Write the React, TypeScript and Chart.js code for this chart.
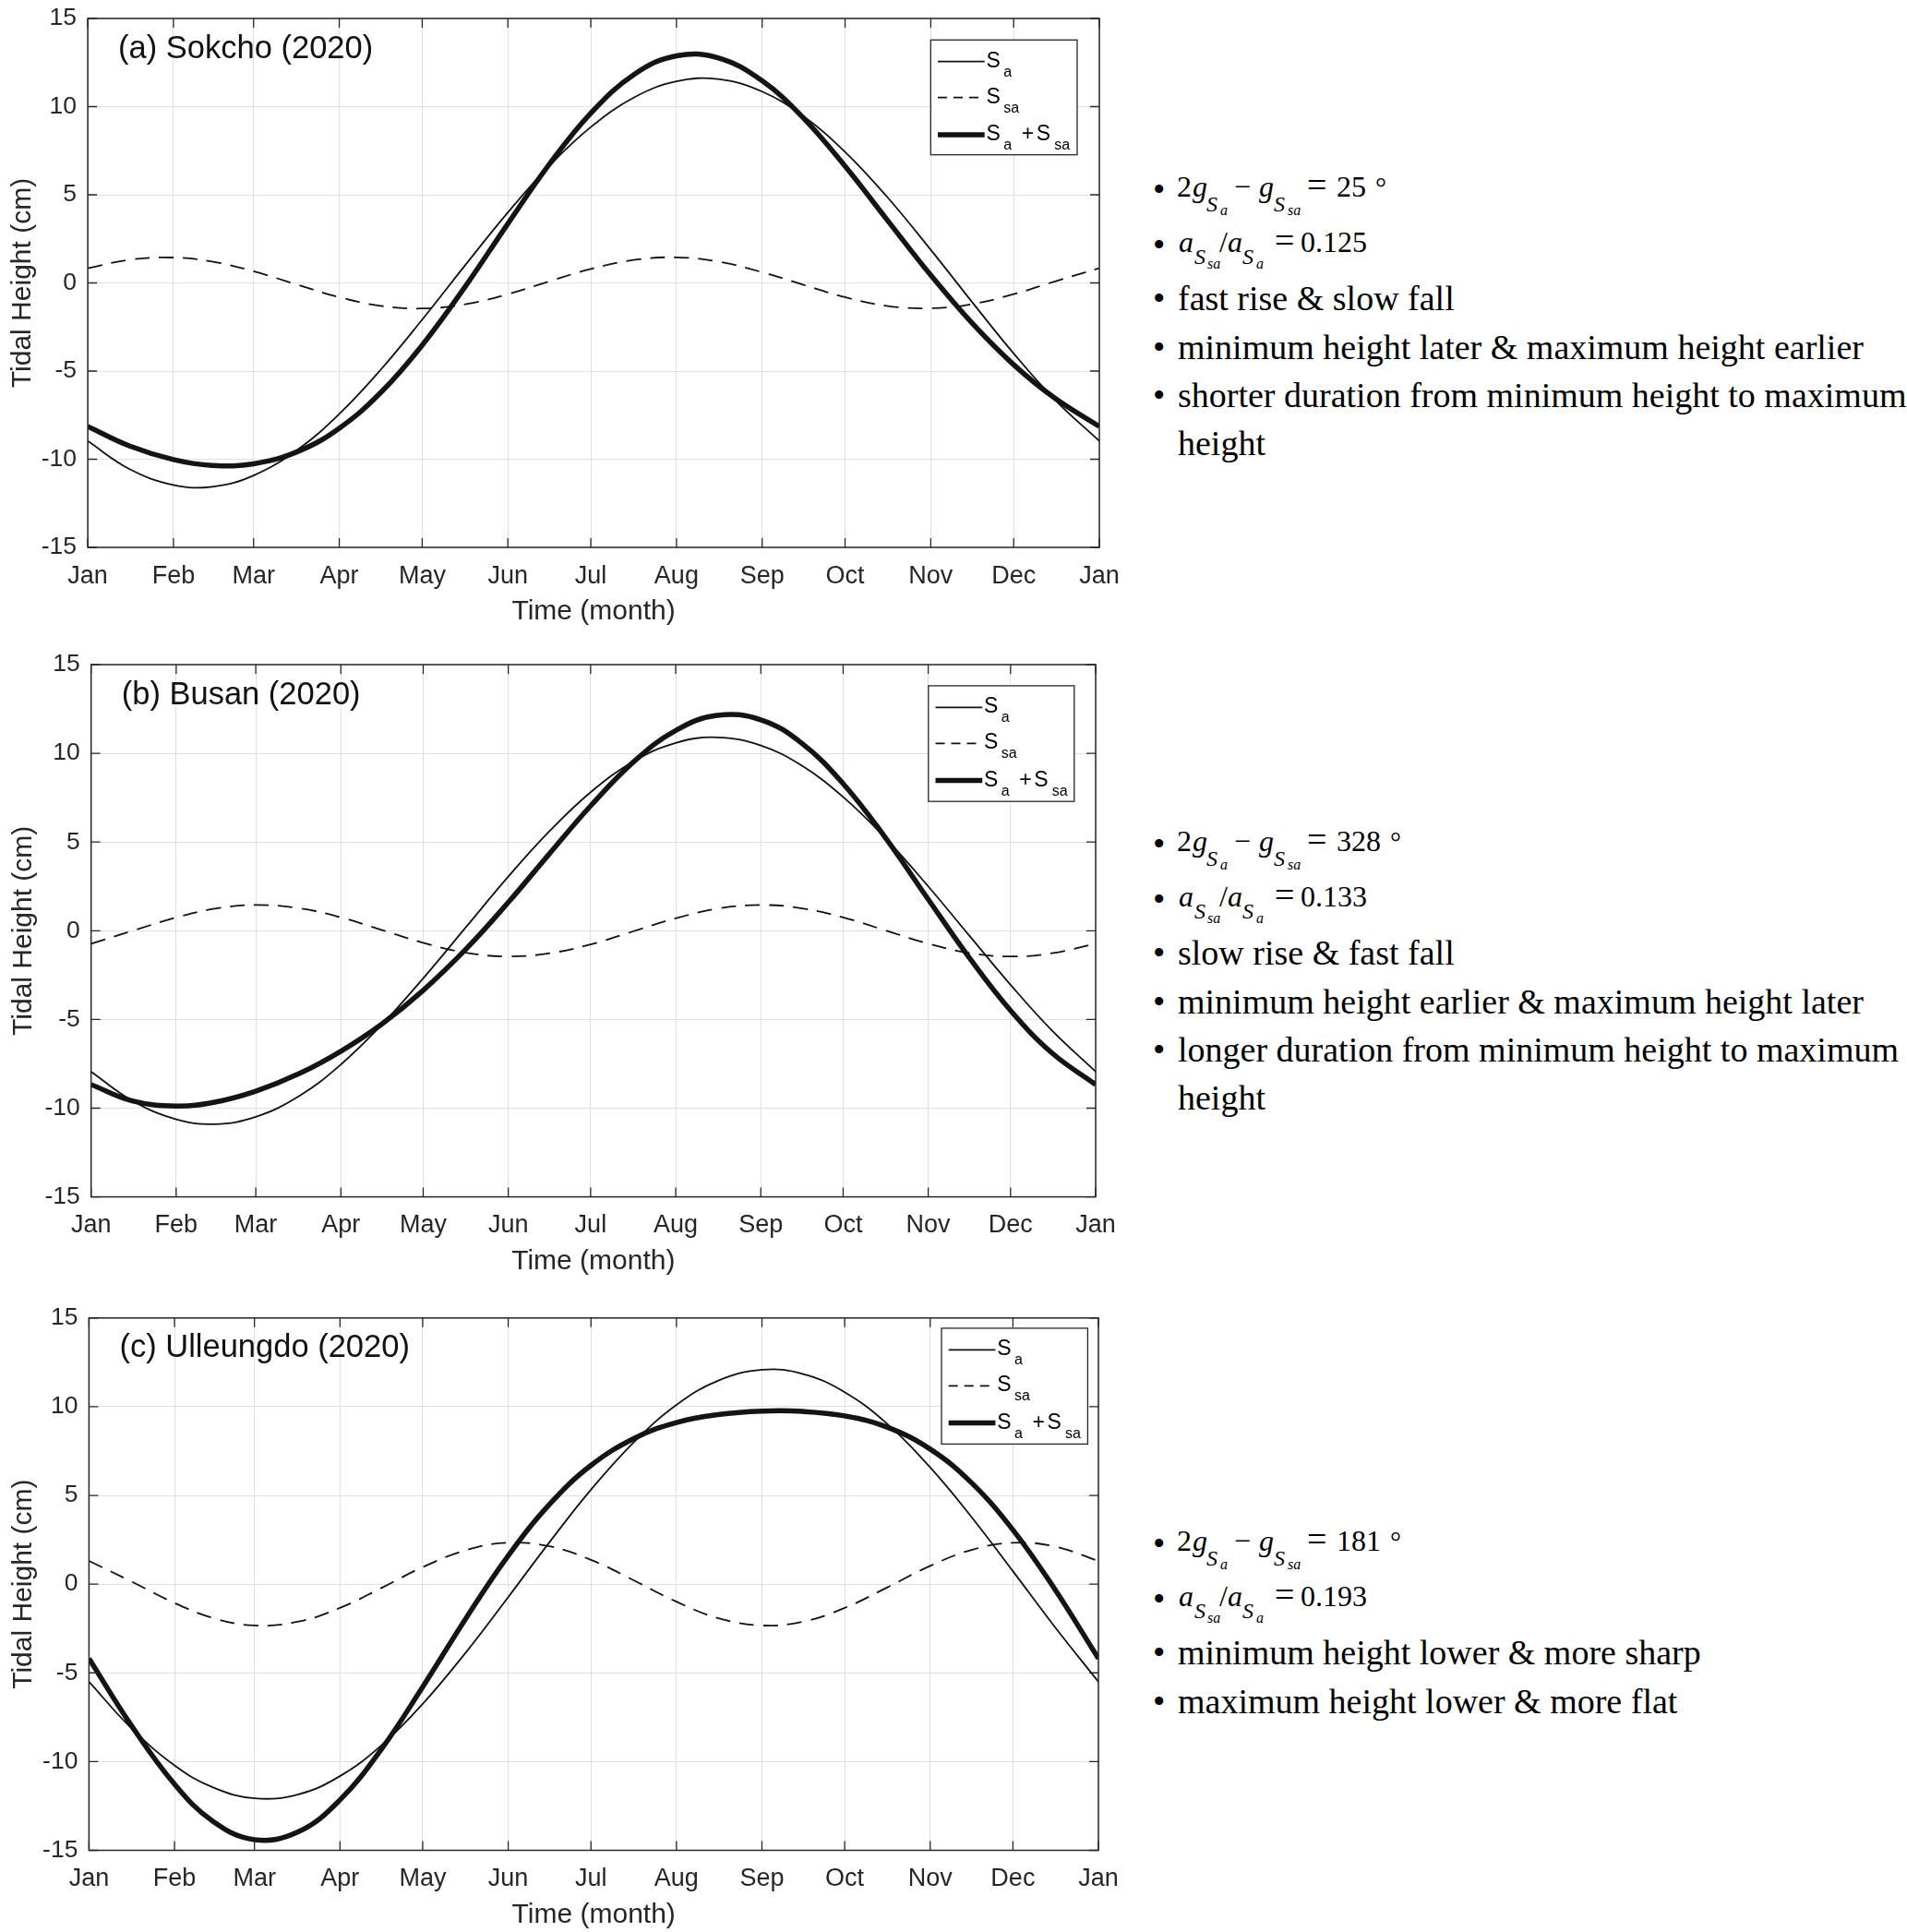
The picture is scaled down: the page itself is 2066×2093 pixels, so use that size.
import React, { useEffect, useRef } from "react";
import { Chart, registerables } from "chart.js";

Chart.register(...registerables);

// ---------- data ----------
const DAYS = [0, 15, 31, 45, 60, 76, 91, 106, 121, 137, 152, 167, 182, 198, 213, 228, 244, 259, 274, 289, 305, 320, 335, 350, 366];
const MONTH_DAYS = [0, 31, 60, 91, 121, 152, 182, 213, 244, 274, 305, 335, 366];
const MONTH_LABELS = ["Jan", "Feb", "Mar", "Apr", "May", "Jun", "Jul", "Aug", "Sep", "Oct", "Nov", "Dec", "Jan"];
const Y_TICKS = [-15, -10, -5, 0, 5, 10, 15];

const SOKCHO_SA = [-8.97, -10.55, -11.46, -11.56, -10.92, -9.45, -7.43, -4.92, -2.08, 1.09, 4.0, 6.64, 8.84, 10.55, 11.43, 11.56, 10.85, 9.45, 7.43, 4.92, 1.88, -1.09, -4.0, -6.64, -8.97];
const SOKCHO_SSA = [0.83, 1.31, 1.44, 1.21, 0.66, -0.11, -0.81, -1.3, -1.45, -1.2, -0.64, 0.09, 0.79, 1.31, 1.45, 1.21, 0.61, -0.11, -0.81, -1.3, -1.44, -1.2, -0.64, 0.09, 0.83];
const SOKCHO_SUM = [-8.14, -9.24, -10.02, -10.35, -10.26, -9.56, -8.24, -6.22, -3.53, -0.11, 3.36, 6.73, 9.63, 11.86, 12.88, 12.77, 11.46, 9.34, 6.62, 3.62, 0.44, -2.29, -4.64, -6.55, -8.14];

const BUSAN_SA = [-7.94, -9.58, -10.63, -10.9, -10.49, -9.3, -7.54, -5.29, -2.68, 0.28, 3.05, 5.61, 7.81, 9.58, 10.59, 10.9, 10.44, 9.3, 7.54, 5.29, 2.5, -0.28, -3.05, -5.61, -7.94];
const BUSAN_SSA = [-0.73, -0.01, 0.75, 1.24, 1.45, 1.26, 0.75, 0.04, -0.68, -1.25, -1.45, -1.27, -0.77, -0.01, 0.7, 1.24, 1.45, 1.26, 0.75, 0.04, -0.73, -1.25, -1.45, -1.27, -0.73];
const BUSAN_SUM = [-8.67, -9.59, -9.88, -9.66, -9.04, -8.04, -6.79, -5.25, -3.36, -0.97, 1.6, 4.34, 7.04, 9.57, 11.29, 12.14, 11.89, 10.56, 8.29, 5.33, 1.77, -1.53, -4.5, -6.88, -8.67];

const ULLEUNGDO_SA = [-5.5, -8.06, -10.21, -11.46, -12.07, -11.84, -10.82, -9.09, -6.75, -3.78, -0.73, 2.37, 5.32, 8.06, 10.1, 11.46, 12.08, 11.84, 10.82, 9.09, 6.58, 3.78, 0.73, -2.37, -5.5];
const ULLEUNGDO_SSA = [1.31, 0.18, -1.06, -1.91, -2.33, -2.11, -1.34, -0.22, 0.96, 1.93, 2.33, 2.13, 1.37, 0.18, -0.99, -1.91, -2.33, -2.11, -1.34, -0.22, 1.03, 1.93, 2.33, 2.13, 1.31];
const ULLEUNGDO_SUM = [-4.19, -7.88, -11.27, -13.37, -14.4, -13.95, -12.16, -9.31, -5.79, -1.85, 1.6, 4.5, 6.69, 8.24, 9.11, 9.55, 9.75, 9.73, 9.48, 8.87, 7.61, 5.71, 3.06, -0.24, -4.19];

const TITLES = ["(a) Sokcho (2020)", "(b) Busan (2020)", "(c) Ulleungdo (2020)"];
const PHASE_DIFF = ["25", "328", "181"];
const AMP_RATIO = ["0.125", "0.133", "0.193"];
const NOTES_A = ["fast rise & slow fall", "minimum height later & maximum height earlier", "shorter duration from minimum height to maximum", "height"];
const NOTES_B = ["slow rise & fast fall", "minimum height earlier & maximum height later", "longer duration from minimum height to maximum", "height"];
const NOTES_C = ["minimum height lower & more sharp", "maximum height lower & more flat"];

// ---------- layout ----------
const SANS = '"Liberation Sans", Arial, Helvetica, sans-serif';
const SERIF = '"Liberation Serif", "Times New Roman", Times, serif';
const CANVAS_W = 1240;
const AXIS_COLOR = "#262626";
const GRID_COLOR = "#e0e0e0";
const LINE_COLOR = "#111111";

type Area = { left: number; right: number; top: number; bottom: number };
type Box = { x: number; y: number; w: number; h: number };
type Spec = {
  title: string;
  sa: number[];
  ssa: number[];
  sum: number[];
  area: Area;
  canvasTop: number;
  canvasBottom: number;
  legend: Box;
  yTitlePad: number;
};

const PANELS: Spec[] = [
  {
    title: TITLES[0], sa: SOKCHO_SA, ssa: SOKCHO_SSA, sum: SOKCHO_SUM,
    area: { left: 95.1, right: 1191, top: 20, bottom: 593 },
    canvasTop: -12, canvasBottom: 681,
    legend: { x: 1008.3, y: 43.3, w: 158.7, h: 124.4 },
    yTitlePad: 6.5,
  },
  {
    title: TITLES[1], sa: BUSAN_SA, ssa: BUSAN_SSA, sum: BUSAN_SUM,
    area: { left: 98.7, right: 1187, top: 720, bottom: 1296.6 },
    canvasTop: 682, canvasBottom: 1385,
    legend: { x: 1005.8, y: 742.9, w: 158, h: 125.3 },
    yTitlePad: 8,
  },
  {
    title: TITLES[2], sa: ULLEUNGDO_SA, ssa: ULLEUNGDO_SSA, sum: ULLEUNGDO_SUM,
    area: { left: 96.4, right: 1190, top: 1427.8, bottom: 2004.5 },
    canvasTop: 1390, canvasBottom: 2093,
    legend: { x: 1020, y: 1438.9, w: 158.4, h: 125.5 },
    yTitlePad: 7.5,
  },
];

function drawLegend(ctx: CanvasRenderingContext2D, b: Box) {
  const { x, y, w, h } = b;
  ctx.save();
  ctx.fillStyle = "#ffffff";
  ctx.fillRect(x, y, w, h);
  ctx.strokeStyle = AXIS_COLOR;
  ctx.lineWidth = 1.3;
  ctx.setLineDash([]);
  ctx.strokeRect(x, y, w, h);

  const rows = [23.4, 62.4, 102.7];
  const x0 = x + 7.7;
  const x1 = x + 58.4;
  ctx.strokeStyle = LINE_COLOR;
  ctx.lineWidth = 1.8;
  ctx.beginPath();
  ctx.moveTo(x0, y + rows[0]);
  ctx.lineTo(x1, y + rows[0]);
  ctx.stroke();
  ctx.setLineDash([10, 7]);
  ctx.beginPath();
  ctx.moveTo(x0, y + rows[1]);
  ctx.lineTo(x1, y + rows[1]);
  ctx.stroke();
  ctx.setLineDash([]);
  ctx.lineWidth = 5.5;
  ctx.beginPath();
  ctx.moveTo(x0, y + rows[2]);
  ctx.lineTo(x1, y + rows[2]);
  ctx.stroke();

  ctx.fillStyle = "#000000";
  ctx.textBaseline = "alphabetic";
  ctx.textAlign = "left";
  const big = `23px ${SANS}`;
  const small = `16px ${SANS}`;
  const sx = x + 60.3;
  const subx = x + 79;
  rows.forEach((r, i) => {
    const base = y + r + 6;
    ctx.font = big;
    ctx.fillText("S", sx, base);
    ctx.font = small;
    ctx.fillText(i === 1 ? "sa" : "a", subx, base + 10);
    if (i === 2) {
      ctx.font = big;
      ctx.fillText("+", x + 98.5, base);
      ctx.fillText("S", x + 114.5, base);
      ctx.font = small;
      ctx.fillText("sa", x + 134, base + 10);
    }
  });
  ctx.restore();
}

const framePlugin = {
  id: "frame",
  afterDatasetsDraw(chart: any, _args: any, opts: any) {
    const { ctx, chartArea: a, scales } = chart;
    ctx.save();
    ctx.strokeStyle = AXIS_COLOR;
    ctx.lineWidth = 1.3;
    ctx.setLineDash([]);
    ctx.beginPath();
    const tl = 10;
    for (const d of MONTH_DAYS) {
      const px = scales.x.getPixelForValue(d);
      ctx.moveTo(px, a.bottom);
      ctx.lineTo(px, a.bottom - tl);
      ctx.moveTo(px, a.top);
      ctx.lineTo(px, a.top + tl);
    }
    for (const v of Y_TICKS) {
      const py = scales.y.getPixelForValue(v);
      ctx.moveTo(a.left, py);
      ctx.lineTo(a.left + tl, py);
      ctx.moveTo(a.right, py);
      ctx.lineTo(a.right - tl, py);
    }
    ctx.stroke();
    ctx.lineWidth = 1.5;
    ctx.strokeRect(a.left, a.top, a.right - a.left, a.bottom - a.top);

    ctx.fillStyle = "#111111";
    ctx.font = `34.5px ${SANS}`;
    ctx.textBaseline = "alphabetic";
    ctx.textAlign = "left";
    ctx.fillText(opts.title, a.left + 33, a.top + 42.6);

    const lg: Box = opts.legend;
    drawLegend(ctx, { x: lg.x, y: lg.y - opts.canvasTop, w: lg.w, h: lg.h });
    ctx.restore();
  },
};

function Panel({ spec }: { spec: Spec }) {
  const ref = useRef<HTMLCanvasElement>(null);
  const h = spec.canvasBottom - spec.canvasTop;
  useEffect(() => {
    const { area, canvasTop } = spec;
    const xBoxH = h - (area.bottom - canvasTop);
    const xTitlePad = Math.max(0, xBoxH - 70 - 18);
    const mk = (vals: number[]) => DAYS.map((d, i) => ({ x: d, y: vals[i] }));
    const chart = new Chart(ref.current as HTMLCanvasElement, {
      type: "line",
      data: {
        datasets: [
          { label: "Sa", data: mk(spec.sa), borderColor: LINE_COLOR, borderWidth: 1.8, pointRadius: 0, tension: 0.4, fill: false },
          { label: "Ssa", data: mk(spec.ssa), borderColor: LINE_COLOR, borderWidth: 1.8, borderDash: [16, 10], pointRadius: 0, tension: 0.4, fill: false },
          { label: "Sa + Ssa", data: mk(spec.sum), borderColor: "#141414", borderWidth: 5.5, pointRadius: 0, tension: 0.4, fill: false },
        ],
      },
      options: {
        animation: false,
        responsive: false,
        devicePixelRatio: 1,
        layout: { padding: { left: 0, top: area.top - canvasTop, right: CANVAS_W - area.right, bottom: 0 } },
        plugins: {
          legend: { display: false },
          tooltip: { enabled: false },
          frame: { title: spec.title, legend: spec.legend, canvasTop },
        } as any,
        scales: {
          x: {
            type: "linear",
            min: 0,
            max: 366,
            afterBuildTicks: (ax: any) => {
              ax.ticks = MONTH_DAYS.map((v) => ({ value: v }));
            },
            afterFit: (ax: any) => {
              ax.height = xBoxH;
            },
            grid: { color: GRID_COLOR, lineWidth: 1, drawTicks: false },
            border: { display: false },
            ticks: {
              autoSkip: false,
              maxRotation: 0,
              minRotation: 0,
              padding: 15,
              color: AXIS_COLOR,
              font: { family: SANS, size: 27 },
              callback: (v: any) => {
                const i = MONTH_DAYS.indexOf(Number(v));
                return i >= 0 ? MONTH_LABELS[i] : "";
              },
            },
            title: {
              display: true,
              text: "Time (month)",
              color: AXIS_COLOR,
              font: { family: SANS, size: 30 },
              padding: { top: 0, bottom: xTitlePad },
            },
          },
          y: {
            type: "linear",
            min: -15,
            max: 15,
            afterBuildTicks: (ax: any) => {
              ax.ticks = Y_TICKS.map((v) => ({ value: v }));
            },
            afterFit: (ax: any) => {
              ax.width = area.left;
            },
            grid: { color: GRID_COLOR, lineWidth: 1, drawTicks: false },
            border: { display: false },
            ticks: {
              padding: 12,
              color: AXIS_COLOR,
              font: { family: SANS, size: 26.5 },
              callback: (v: any) => String(v),
            },
            title: {
              display: true,
              text: "Tidal Height (cm)",
              color: AXIS_COLOR,
              font: { family: SANS, size: 30 },
              padding: { top: spec.yTitlePad, bottom: 0 },
            },
          },
        },
      },
      plugins: [framePlugin as any],
    });
    return () => chart.destroy();
  }, [spec, h]);
  return (
    <canvas
      ref={ref}
      width={CANVAS_W}
      height={h}
      style={{ position: "absolute", left: 0, top: spec.canvasTop, width: CANVAS_W, height: h }}
    />
  );
}

// ---------- right-side notes ----------
const TEXT_SIZE = 38;
const MATH_SIZE = 32;
const BULLET_X = 1249;
const TEXT_X = 1276;

function Txt({ x, y, size, italic, children }: { x: number; y: number; size: number; italic?: boolean; children: React.ReactNode }) {
  return (
    <div
      style={{
        position: "absolute",
        left: x,
        top: y - 0.8375 * size,
        fontSize: size,
        lineHeight: `${size}px`,
        whiteSpace: "nowrap",
        fontFamily: SERIF,
        fontStyle: italic ? "italic" : "normal",
        color: "#000",
      }}
    >
      {children}
    </div>
  );
}

type Piece = { t: string; x: number; dy: number; s: number; i?: boolean };

function MathRow({ y, pieces }: { y: number; pieces: Piece[] }) {
  return (
    <>
      {pieces.map((p, k) => (
        <Txt key={k} x={p.x} y={y + p.dy} size={p.s} italic={p.i}>
          {p.t}
        </Txt>
      ))}
    </>
  );
}

function phasePieces(value: string): Piece[] {
  return [
    { t: "2", x: 1275, dy: 0, s: MATH_SIZE },
    { t: "g", x: 1292, dy: 0, s: MATH_SIZE, i: true },
    { t: "S", x: 1307, dy: 16, s: 24, i: true },
    { t: "a", x: 1322, dy: 20, s: 16, i: true },
    { t: "−", x: 1337, dy: 0, s: MATH_SIZE },
    { t: "g", x: 1364, dy: 0, s: MATH_SIZE, i: true },
    { t: "S", x: 1380, dy: 16, s: 24, i: true },
    { t: "sa", x: 1395, dy: 20, s: 16, i: true },
    { t: "=", x: 1416, dy: 0, s: 38 },
    { t: value, x: 1448, dy: 0, s: MATH_SIZE },
    { t: "°", x: 1448 + 16 * value.length + 10, dy: 0, s: 30 },
  ];
}

function ratioPieces(value: string): Piece[] {
  return [
    { t: "a", x: 1277, dy: 0, s: MATH_SIZE, i: true },
    { t: "S", x: 1294, dy: 13, s: 24, i: true },
    { t: "sa", x: 1308, dy: 18, s: 16, i: true },
    { t: "/", x: 1321, dy: 0, s: MATH_SIZE },
    { t: "a", x: 1330, dy: 0, s: MATH_SIZE, i: true },
    { t: "S", x: 1346, dy: 13, s: 24, i: true },
    { t: "a", x: 1361, dy: 18, s: 16, i: true },
    { t: "=", x: 1381, dy: 0, s: 38 },
    { t: value, x: 1409, dy: 0, s: MATH_SIZE },
  ];
}

function Notes({ base, phase, ratio, notes, bullets }: { base: number; phase: string; ratio: string; notes: string[]; bullets: boolean[] }) {
  const textOffs = [123, 176, 228, 280];
  return (
    <>
      <Txt x={BULLET_X} y={base + 5} size={TEXT_SIZE}>•</Txt>
      <MathRow y={base} pieces={phasePieces(phase)} />
      <Txt x={BULLET_X} y={base + 65} size={TEXT_SIZE}>•</Txt>
      <MathRow y={base + 60} pieces={ratioPieces(ratio)} />
      {notes.map((t, i) => (
        <React.Fragment key={i}>
          {bullets[i] ? (
            <Txt x={BULLET_X} y={base + textOffs[i]} size={TEXT_SIZE}>
              •
            </Txt>
          ) : null}
          <Txt x={TEXT_X} y={base + textOffs[i]} size={TEXT_SIZE}>
            {t}
          </Txt>
        </React.Fragment>
      ))}
    </>
  );
}

export default function App() {
  return (
    <div
      style={{
        position: "absolute",
        left: 0,
        top: 0,
        width: 2066,
        height: 2093,
        overflow: "hidden",
        background: "#ffffff",
      }}
    >
      {PANELS.map((p, i) => (
        <Panel key={i} spec={p} />
      ))}
      <Notes base={213} phase={PHASE_DIFF[0]} ratio={AMP_RATIO[0]} notes={NOTES_A} bullets={[true, true, true, false]} />
      <Notes base={922} phase={PHASE_DIFF[1]} ratio={AMP_RATIO[1]} notes={NOTES_B} bullets={[true, true, true, false]} />
      <Notes base={1680} phase={PHASE_DIFF[2]} ratio={AMP_RATIO[2]} notes={NOTES_C} bullets={[true, true]} />
    </div>
  );
}
